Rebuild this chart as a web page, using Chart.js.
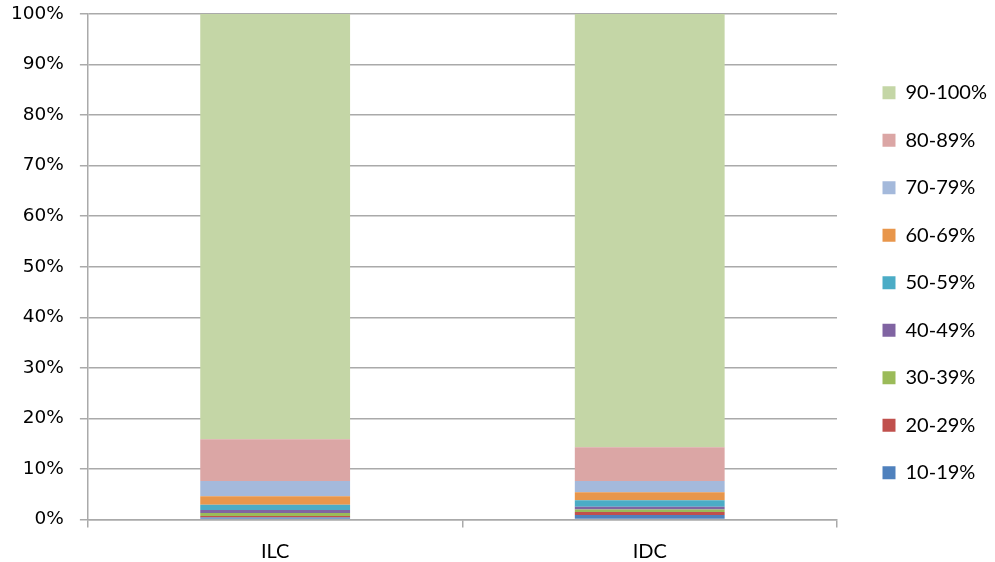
<!DOCTYPE html>
<html>
<head>
<meta charset="utf-8">
<script src="https://cdn.jsdelivr.net/npm/chart.js@4"></script>
<style>
html,body{margin:0;padding:0;background:#fff;}
#wrap{width:995px;height:562px;position:relative;}
</style>
</head>
<body>
<div id="wrap"><canvas id="c" width="995" height="562"></canvas></div>
<script>
const categories = ["ILC", "IDC"];
const seriesNames = ["10-19%", "20-29%", "30-39%", "40-49%", "50-59%", "60-69%", "70-79%", "80-89%", "90-100%"];
const s10_19 = [0.4, 0.9];
const s20_29 = [0.3, 0.6];
const s30_39 = [0.6, 0.5];
const s40_49 = [0.6, 0.5];
const s50_59 = [1.0, 1.3];
const s60_69 = [1.7, 1.6];
const s70_79 = [3.0, 2.2];
const s80_89 = [8.3, 6.7];
const s90_100 = [84.1, 85.7];
const yTicks = [0, 10, 20, 30, 40, 50, 60, 70, 80, 90, 100];

const seriesValues = [s10_19, s20_29, s30_39, s40_49, s50_59, s60_69, s70_79, s80_89, s90_100];
const colors = ["#4f81bd", "#c0504d", "#9bbb59", "#8064a2", "#4bacc6", "#e8964b", "#a4b9db", "#dba6a5", "#c4d6a6"];

const datasets = seriesNames.map((n, i) => ({
  label: n,
  data: seriesValues[i],
  backgroundColor: colors[i],
  borderWidth: 0,
  categoryPercentage: 1.0,
  barPercentage: 0.4
}));

const legendTweak = {
  id: 'legendTweak',
  beforeInit(chart) {
    const lg = chart.legend;
    if (!lg) return;
    const origFit = lg.fit.bind(lg);
    lg.fit = function () { origFit(); this.width = 158; };
    const origDraw = lg.draw.bind(lg);
    lg.draw = function () {
      const ctx = chart.ctx;
      ctx.save();
      ctx.translate(18, -5);
      origDraw();
      ctx.restore();
    };
  }
};

new Chart(document.getElementById('c'), {
  type: 'bar',
  data: { labels: categories, datasets },
  plugins: [legendTweak],
  options: {
    responsive: false,
    animation: false,
    layout: { padding: { left: -5, right: 0, top: 0, bottom: -13.5 } },
    plugins: {
      tooltip: { enabled: false },
      legend: {
        position: 'right',
        reverse: true,
        labels: {
          font: { family: 'Lato', size: 20 },
          color: '#000',
          boxWidth: 13,
          boxHeight: 13,
          padding: 27.5
        }
      }
    },
    scales: {
      x: {
        stacked: true,
        grid: { offset: true, drawOnChartArea: false, color: '#aaaaaa', tickLength: 8, lineWidth: 1.5 },
        border: { color: '#aaaaaa', width: 1.5 },
        ticks: { font: { family: 'Lato', size: 20 }, color: '#000', padding: 12 }
      },
      y: {
        stacked: true,
        min: 0,
        max: 100,
        afterBuildTicks: (axis) => { axis.ticks = yTicks.map(v => ({ value: v })); },
        afterFit: (axis) => { axis.paddingTop = 14; axis.paddingBottom = 0; },
        grid: { color: '#aaaaaa', tickLength: 8, lineWidth: 1.5 },
        border: { color: '#aaaaaa', width: 1.5 },
        ticks: {
          font: { family: 'DejaVu Sans', size: 18.5 },
          color: '#000',
          padding: 16,
          callback: (v) => v + '%'
        }
      }
    }
  }
});
</script>
</body>
</html>
